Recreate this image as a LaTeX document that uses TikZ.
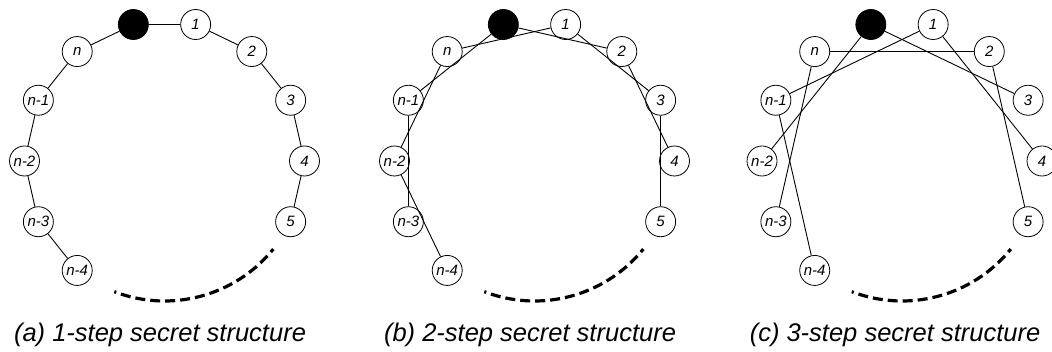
\documentclass[tikz,border=0pt]{standalone}
\usepackage{fontspec}
\setmainfont{Liberation Sans}
\begin{document}
\begin{tikzpicture}[x=1pt,y=1pt,
  nd/.style={circle,draw,fill=white,minimum size=30pt,inner sep=0pt,line width=0.8pt,font=\fontsize{15}{15}\selectfont\itshape},
  blk/.style={circle,draw,fill=black,minimum size=30pt,inner sep=0pt,line width=0.8pt},
  lnk/.style={line width=0.9pt},
  gaparc/.style={line width=3.2pt,dash pattern=on 10pt off 5pt,dash phase=8pt},
  captxt/.style={anchor=base,inner sep=0pt,font=\fontsize{25.5}{30}\selectfont\itshape}]
\useasboundingbox (0,0) rectangle (1052,352);
\foreach \p/\cx in {a/164.5,b/534.5,c/902}{
  \node[blk] (\p0) at ({\cx+140*cos(102.857)},{191+140*sin(102.857)}) {};
  \foreach \i in {1,...,5}{
    \node[nd] (\p\i) at ({\cx+140*cos(77.143-25.714*(\i-1))},{191+140*sin(77.143-25.714*(\i-1))}) {\i};
  }
  \node[nd] (\p m0) at ({\cx+140*cos(128.571)},{191+140*sin(128.571)}) {n};
  \foreach \j in {1,...,4}{
    \node[nd] (\p m\j) at ({\cx+140*cos(128.571+25.714*\j)},{191+140*sin(128.571+25.714*\j)}) {n-\j};
  }
  \draw[gaparc] ({\cx+140*cos(-111)},{191+140*sin(-111)}) arc[start angle=-111,end angle=-39,radius=140];
}
% (a) 1-step
\foreach \u/\v in {a0/a1,a1/a2,a2/a3,a3/a4,a4/a5,a0/am0,am0/am1,am1/am2,am2/am3,am3/am4}
  \draw[lnk] (\u) -- (\v);
% (b) 2-step
\foreach \u/\v in {b0/b2,b1/b3,b2/b4,b3/b5,b0/bm1,bm0/bm2,bm1/bm3,bm2/bm4,b1/bm0}
  \draw[lnk] (\u) -- (\v);
% (c) 3-step
\foreach \u/\v in {c0/c3,c1/c4,c2/c5,c0/cm2,cm0/cm3,cm1/cm4,c1/cm1,c2/cm0}
  \draw[lnk] (\u) -- (\v);
\node[captxt] (capa) at (160,10) {(a) 1-step secret structure};
\node[captxt] (capb) at (530,10) {(b) 2-step secret structure};
\node[captxt] (capc) at (895,10) {(c) 3-step secret structure};
\end{tikzpicture}
\end{document}
